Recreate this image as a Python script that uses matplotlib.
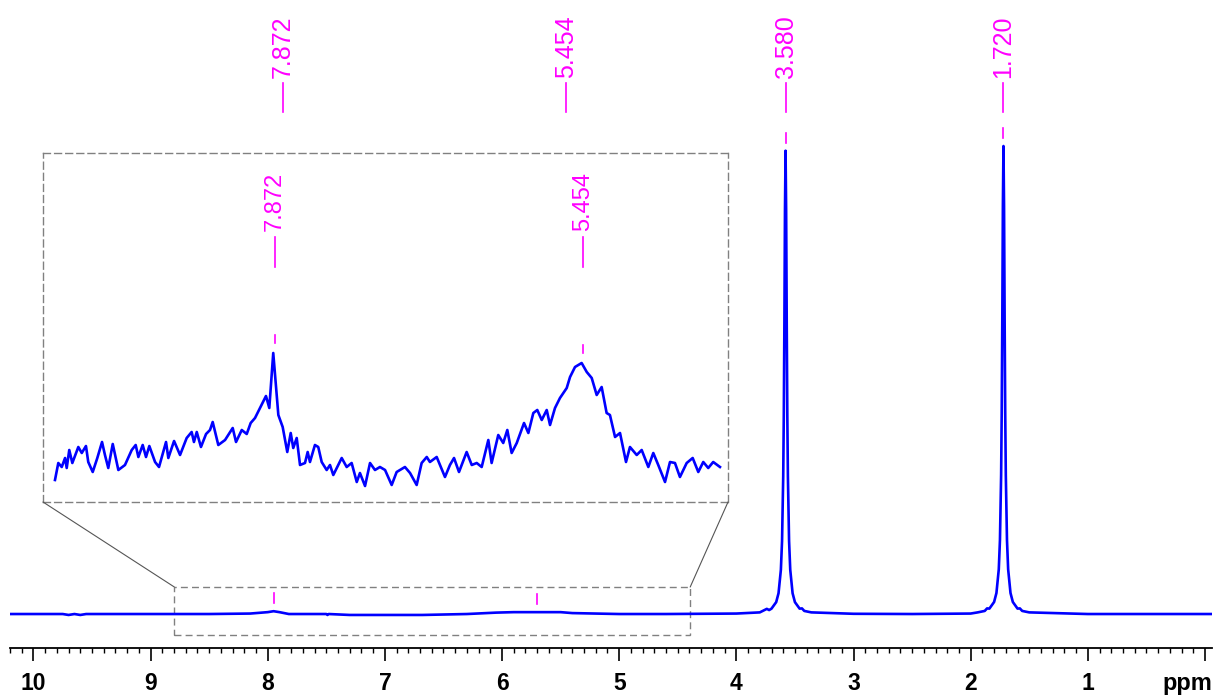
import numpy as np
import matplotlib
matplotlib.use("Agg")
import matplotlib.pyplot as plt
from matplotlib.patches import Rectangle, ConnectionPatch
from matplotlib.transforms import blended_transform_factory

plt.rcParams['font.family'] = ['Liberation Sans', 'DejaVu Sans']

# main spectrum (ppm, relative intensity)
main_ppm = [10.2, 9.75, 9.70, 9.65, 9.60, 9.55, 9.0, 8.5, 8.15, 8.0, 7.95, 7.90, 7.82,
            7.5, 7.49, 7.48, 7.3, 7.08, 6.89, 6.68, 6.3, 6.05, 5.9, 5.7, 5.5, 5.4,
            5.0, 4.6, 4.0, 3.80, 3.74, 3.72, 3.70, 3.66, 3.64, 3.62, 3.61, 3.60,
            3.595, 3.59, 3.585, 3.58, 3.575, 3.57, 3.565, 3.56, 3.55, 3.54, 3.52,
            3.50, 3.46, 3.44, 3.42, 3.36, 3.0, 2.5, 2.0, 1.94, 1.88, 1.86, 1.84,
            1.80, 1.78, 1.76, 1.75, 1.74, 1.735, 1.73, 1.725, 1.72, 1.715, 1.71,
            1.705, 1.70, 1.69, 1.68, 1.66, 1.64, 1.60, 1.58, 1.56, 1.50, 1.0, 0.5,
            0.2, -0.06]
main_int = [0.0, 0.0, -0.002, 0.0, -0.002, 0.0, 0.0, 0.0, 0.001, 0.004, 0.006, 0.004, 0.0,
            0.0, -0.002, 0.0, -0.002, -0.002, -0.002, -0.002, 0.0, 0.003, 0.004, 0.004, 0.004, 0.002,
            0.0, 0.0, 0.001, 0.0035, 0.011, 0.0085, 0.0115, 0.0254, 0.0444, 0.0945, 0.156, 0.294,
            0.425, 0.622, 0.862, 0.99, 0.862, 0.622, 0.425, 0.294, 0.156, 0.0945, 0.0444,
            0.0254, 0.0115, 0.012, 0.0066, 0.0035, 0.0005, 0.0, 0.001, 0.0035, 0.0066, 0.012, 0.0116,
            0.0257, 0.0449, 0.0955, 0.158, 0.297, 0.429, 0.628, 0.871, 1.0, 0.871, 0.628,
            0.429, 0.297, 0.158, 0.0955, 0.0449, 0.0257, 0.0116, 0.012, 0.0066, 0.0035, 0.0, 0.0,
            0.0, 0.0]

# expanded region (inset), arbitrary intensity units
inset_ppm = [9.594, 9.568, 9.541, 9.515, 9.502, 9.482, 9.458, 9.411, 9.384, 9.351, 9.333,
             9.298, 9.262, 9.225, 9.202, 9.176, 9.141, 9.097, 9.045, 8.992, 8.961, 8.940,
             8.906, 8.880, 8.854, 8.809, 8.778, 8.723, 8.705, 8.660, 8.613, 8.561, 8.522,
             8.504, 8.482, 8.449, 8.409, 8.378, 8.357, 8.313, 8.260, 8.200, 8.174, 8.129,
             8.090, 8.059, 8.025, 7.986, 7.939, 7.913, 7.882, 7.842, 7.808, 7.772, 7.745,
             7.725, 7.698, 7.672, 7.633, 7.612, 7.594, 7.555, 7.529, 7.502, 7.463, 7.437,
             7.411, 7.345, 7.306, 7.267, 7.227, 7.202, 7.162, 7.123, 7.084, 7.045, 7.005,
             6.953, 6.914, 6.849, 6.809, 6.757, 6.718, 6.678, 6.653, 6.600, 6.535, 6.496,
             6.464, 6.425, 6.365, 6.325, 6.286, 6.247, 6.195, 6.169, 6.117, 6.078, 6.046,
             6.012, 5.972, 5.915, 5.881, 5.842, 5.811, 5.776, 5.737, 5.711, 5.672, 5.633,
             5.580, 5.554, 5.515, 5.463, 5.423, 5.384, 5.345, 5.306, 5.267, 5.241, 5.201,
             5.162, 5.115, 5.084, 5.031, 4.992, 4.940, 4.901, 4.862, 4.809, 4.770, 4.731,
             4.692, 4.639, 4.592, 4.548, 4.509, 4.470, 4.431, 4.378]
inset_int = [20, 37, 33, 42, 32, 50, 37, 53, 47, 54, 38,
             28, 42, 58, 45, 32, 56, 30, 35, 50, 55, 43,
             55, 43, 54, 38, 33, 58, 42, 59, 45, 62, 68,
             58, 68, 53, 66, 70, 78, 55, 60, 72, 58, 70,
             66, 77, 82, 92, 104, 92, 147, 85, 73, 48, 67,
             52, 62, 35, 37, 48, 38, 55, 53, 38, 30, 35,
             25, 42, 33, 37, 18, 27, 14, 37, 30, 33, 30,
             15, 28, 33, 27, 15, 37, 43, 38, 43, 23, 35,
             42, 28, 48, 35, 37, 33, 60, 37, 65, 57, 70,
             47, 57, 77, 67, 87, 90, 80, 90, 75, 92, 102,
             112, 123, 133, 137, 128, 122, 105, 113, 87, 85, 63,
             67, 38, 53, 45, 50, 33, 47, 35, 18, 38, 37,
             23, 37, 42, 28, 38, 32, 38, 33]

# peak labels
label_ppm = [7.872, 5.454, 3.580, 1.720]
label_txt = ['7.872', '5.454', '3.580', '1.720']
mark_ppm = [7.95, 5.70, 3.58, 1.72]
mark_int = [0.006, 0.004, 0.99, 1.0]
inset_label_ppm = [7.872, 5.454]
inset_mark_int = [147, 137]

# region shown in the inset
zoom_lo, zoom_hi = 4.394, 8.797

blue = '#0000ff'
mag = '#ff00ff'
grey = '#808080'

fig = plt.figure(figsize=(12.17, 6.95), dpi=100)
ax = fig.add_axes([10/1217, 47/695, 1202/1217, 648/695])
ax.plot(main_ppm, main_int, color=blue, lw=1.9)
ax.set_xlim(10.196, -0.06)
ax.set_ylim(-0.0726, 1.312)
for s in ['top', 'left', 'right']:
    ax.spines[s].set_visible(False)
ax.spines['bottom'].set_linewidth(1.3)
ax.set_yticks([])
ax.set_xticks(np.arange(0, 11))
ax.set_xticks(np.arange(-0.0, 10.21, 0.1), minor=True)
ax.set_xticklabels([''] + [str(i) for i in range(1, 11)], fontweight='bold')
ax.tick_params(axis='x', which='major', length=9, width=1.2, labelsize=16.5, pad=8)
ax.tick_params(axis='x', which='minor', length=3.5, width=1.0)
ax.text(1.0, -0.0648, 'ppm', transform=ax.transAxes, ha='right', va='baseline',
        fontsize=17, fontweight='bold')

bt = blended_transform_factory(ax.transData, ax.transAxes)
for p, t in zip(label_ppm, label_txt):
    ax.text(p, 0.880, t, transform=bt, rotation=90, ha='center', va='bottom',
            color=mag, fontsize=18)
    ax.plot([p, p], [0.827, 0.872], transform=bt, color=mag, lw=1.2)
for p, h in zip(mark_ppm, mark_int):
    ax.plot([p, p], [h + 0.017, h + 0.038], color=mag, lw=1.2)

ax.add_patch(Rectangle((zoom_hi, -0.0449), zoom_lo - zoom_hi, 0.1026, fill=False,
                       ec=grey, lw=1.0, ls=(0, (5, 3))))

# inset
axin = fig.add_axes([43/1217, 193/695, 685/1217, 349/695])
axin.plot(inset_ppm, inset_int, color=blue, lw=1.9)
axin.set_xlim(9.688, 4.315)
axin.set_ylim(-2, 347)
axin.set_xticks([])
axin.set_yticks([])
for s in axin.spines.values():
    s.set_linestyle((0, (5, 3)))
    s.set_edgecolor(grey)
    s.set_linewidth(1.0)

bti = blended_transform_factory(axin.transData, axin.transAxes)
for p, h in zip(inset_label_ppm, inset_mark_int):
    axin.text(p, 0.7765, '%.3f' % p, transform=bti, rotation=90, ha='center',
              va='bottom', color=mag, fontsize=17)
    axin.plot([p, p], [0.673, 0.759], transform=bti, color=mag, lw=1.2)
    axin.plot([p, p], [h + 10, h + 18], color=mag, lw=1.2)

for xa, xd in [(0, zoom_hi), (1, zoom_lo)]:
    con = ConnectionPatch(xyA=(xa, 0), coordsA=axin.transAxes,
                          xyB=(xd, 0.0577), coordsB=ax.transData,
                          color='#555555', lw=0.8)
    fig.add_artist(con)

fig.savefig('out.png', dpi=100)
